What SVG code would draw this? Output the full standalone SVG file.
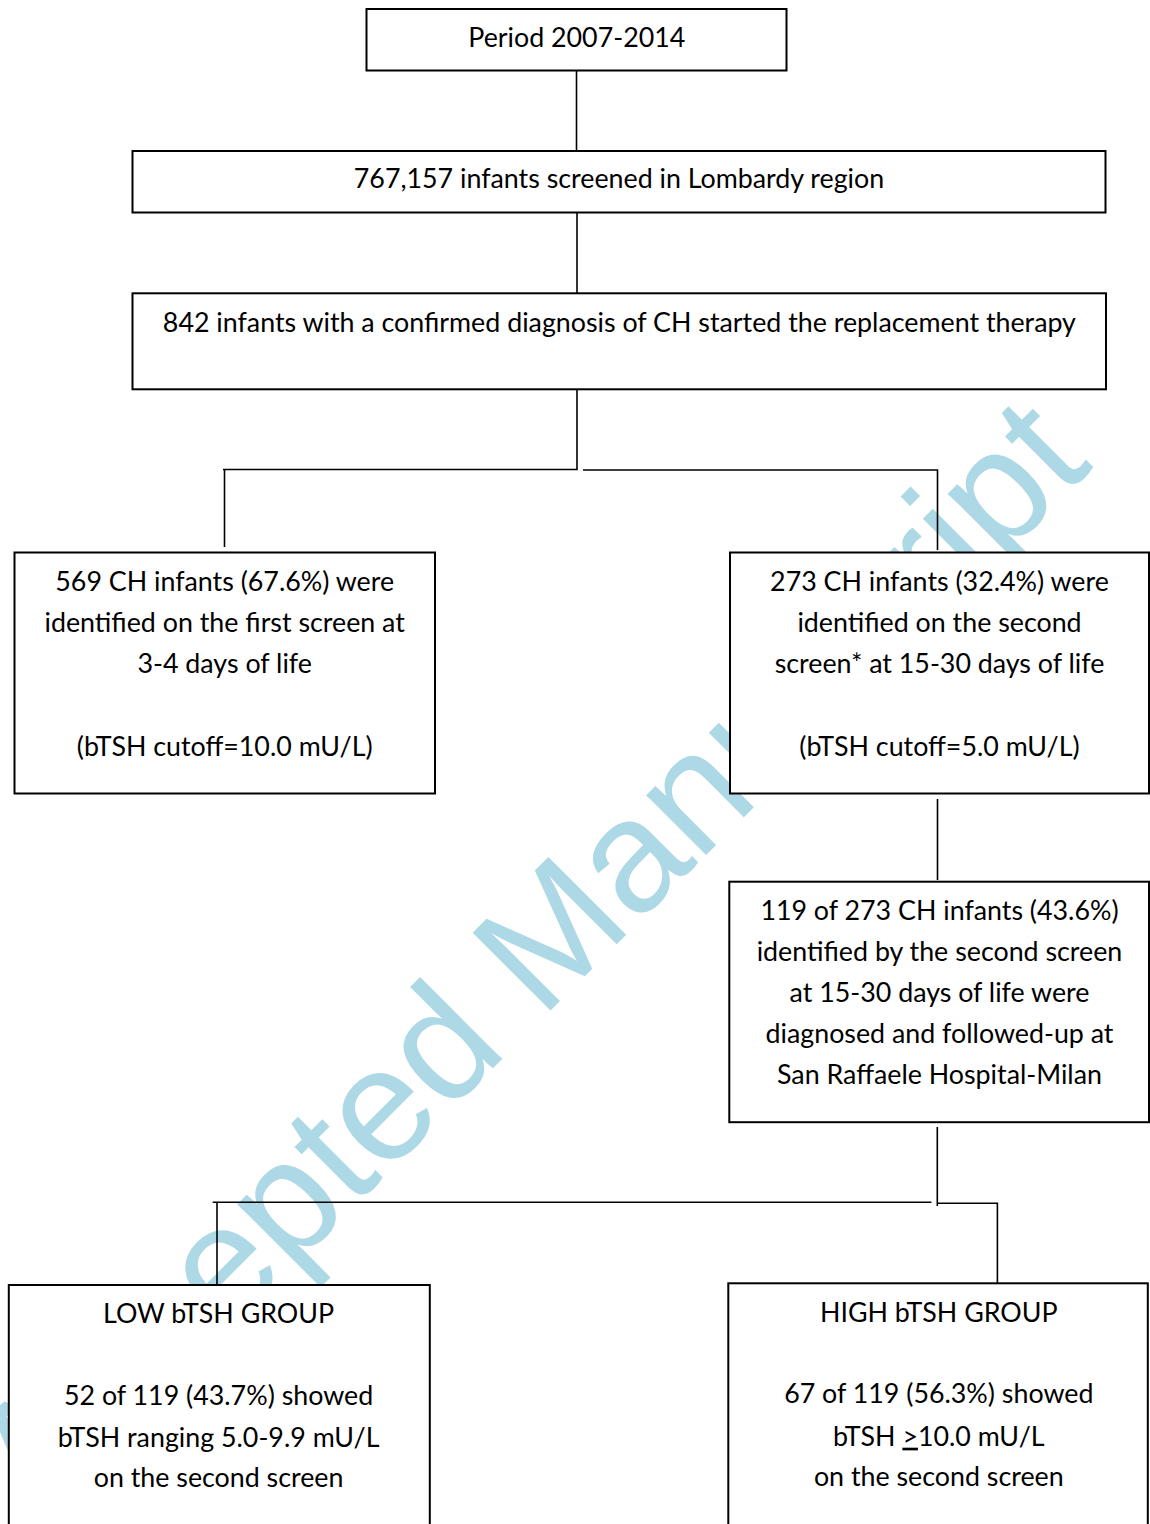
<svg xmlns="http://www.w3.org/2000/svg" width="1150" height="1524" viewBox="0 0 1150 1524">
<style>
.box{fill:#fff;stroke:#000;stroke-width:2}
.t{font-family:Lato,"Open Sans","DejaVu Sans",sans-serif;font-size:26.8px;fill:#000;text-anchor:middle}
.c{fill:none;stroke:#000;stroke-width:1.6}
.wm{font-family:"Liberation Sans",Arial,sans-serif;font-size:160px;fill:#add8e6}
</style>
<rect width="1150" height="1524" fill="#fff"/>
<text class="wm" transform="translate(38,1523) rotate(-45)">Accepted Manuscript</text>
<g id="connectors">
<path class="c" d="M576.5,70 V150"/>
<path class="c" d="M577,212 V293"/>
<path class="c" d="M577,389 V469.5 H223 M224.5,469.5 V547"/>
<path class="c" d="M583,470 H937.5 V550"/>
<path class="c" d="M937.5,799 V880"/>
<path class="c" d="M937.3,1127 V1206"/>
<path class="c" d="M212.7,1202.3 H931.4 M217,1202.3 V1285"/>
<path class="c" d="M937.3,1203.3 H997.4 V1283"/>
</g>
<g id="n1">
<rect class="box" x="366.5" y="9" width="420" height="61.5"/>
<text class="t" x="576.8" y="46.7">Period 2007-2014</text>
</g>
<g id="n2">
<rect class="box" x="132.5" y="151" width="973" height="61.5"/>
<text class="t" x="619" y="188.3">767,157 infants screened in Lombardy region</text>
</g>
<g id="n3">
<rect class="box" x="132.5" y="293.3" width="973.5" height="96"/>
<text class="t" x="619.4" y="331.7">842 infants with a confirmed diagnosis of CH started the replacement therapy</text>
</g>
<g id="n4">
<rect class="box" x="14.5" y="552.5" width="420.5" height="241"/>
<text class="t" x="224.7" y="590.7">569 CH infants (67.6%) were</text>
<text class="t" x="224.7" y="631.7">identified on the first screen at</text>
<text class="t" x="224.7" y="672.7">3-4 days of life</text>
<text class="t" x="224.7" y="756.2">(bTSH cutoff=10.0 mU/L)</text>
</g>
<g id="n5">
<rect class="box" x="730" y="552.5" width="419" height="241"/>
<text class="t" x="939.5" y="590.7">273 CH infants (32.4%) were</text>
<text class="t" x="939.5" y="631.7">identified on the second</text>
<text class="t" x="939.5" y="672.7">screen* at 15-30 days of life</text>
<text class="t" x="939.5" y="756.2">(bTSH cutoff=5.0 mU/L)</text>
</g>
<g id="n6">
<rect class="box" x="729.3" y="881.7" width="419.7" height="240.5"/>
<text class="t" x="939.5" y="920">119 of 273 CH infants (43.6%)</text>
<text class="t" x="939.5" y="960.5">identified by the second screen</text>
<text class="t" x="939.5" y="1001.7">at 15-30 days of life were</text>
<text class="t" x="939.5" y="1042.7">diagnosed and followed-up at</text>
<text class="t" x="939.5" y="1084">San Raffaele Hospital-Milan</text>
</g>
<g id="n7">
<rect class="box" x="8.8" y="1285" width="421" height="245"/>
<text class="t" x="218.6" y="1322.7">LOW bTSH GROUP</text>
<text class="t" x="218.6" y="1405.3">52 of 119 (43.7%) showed</text>
<text class="t" x="218.6" y="1446.7">bTSH ranging 5.0-9.9 mU/L</text>
<text class="t" x="218.6" y="1487.3">on the second screen</text>
</g>
<g id="n8">
<rect class="box" x="728.3" y="1283.3" width="419.5" height="247"/>
<text class="t" x="938.8" y="1321.7">HIGH bTSH GROUP</text>
<text class="t" x="938.8" y="1402.7">67 of 119 (56.3%) showed</text>
<text class="t" x="938.8" y="1445.7">bTSH <tspan text-decoration="underline">&gt;</tspan>10.0 mU/L</text>
<text class="t" x="938.8" y="1486">on the second screen</text>
</g>
</svg>
